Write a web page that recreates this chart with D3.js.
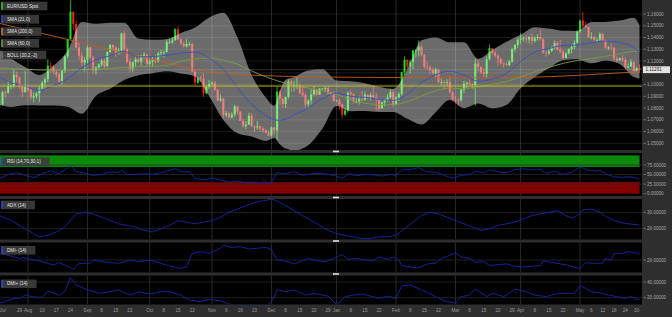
<!DOCTYPE html>
<html lang="en">
<head>
<meta charset="utf-8">
<title>EUR/USD Spot</title>
<script src="https://d3js.org/d3.v7.min.js"></script>
<style>
  body { margin: 0; background: #2e2e2e; }
  svg { display: block; font-family: "Liberation Sans", Arial, sans-serif; }
</style>
</head>
<body>
<div id="chart"></div>
<script>
// ---- data (trading days from 20 Jul 2015 to 31 May 2016, index 0..226) ----
var firstOpen = 1.0825;
var close = [
 1.0830,1.0935,1.0930,1.0985,1.0985, 1.1085,1.1060,1.0985,1.0935,1.0980,
 1.0955,1.0890,1.0900,1.0925,1.0965, 1.1015,1.1045,1.1160,1.1150,1.1105,
 1.1085,1.1025,1.1115,1.1240,1.1385, 1.1620,1.1515,1.1315,1.1245,1.1185,
 1.1210,1.1315,1.1230,1.1120,1.1145, 1.1170,1.1203,1.1155,1.1275,1.1337,
 1.1315,1.1265,1.1290,1.1435,1.1300, 1.1195,1.1135,1.1190,1.1215,1.1195,
 1.1245,1.1255,1.1175,1.1195,1.1210, 1.1195,1.1265,1.1275,1.1275,1.1360,
 1.1360,1.1375,1.1470,1.1385,1.1350, 1.1325,1.1345,1.1345,1.1110,1.1015,
 1.1055,1.1050,1.0925,1.0980,1.1005, 1.1015,1.0955,1.0865,1.0880,1.0740,
 1.0755,1.0720,1.0745,1.0815,1.0770, 1.0690,1.0645,1.0660,1.0735,1.0645,
 1.0635,1.0645,1.0625,1.0610,1.0590, 1.0565,1.0635,1.0610,1.0940,1.0880,
 1.0835,1.0895,1.1025,1.0990,1.0990, 1.0990,1.0930,1.0910,1.0830,1.0865,
 1.0915,1.0955,1.0915,1.0965,1.0965, 1.0970,1.0925,1.0930,1.0860,1.0865,
 1.0830,1.0745,1.0780,1.0930,1.0920, 1.0855,1.0855,1.0875,1.0870,1.0915,
 1.0890,1.0910,1.0890,1.0875,1.0795, 1.0850,1.0870,1.0890,1.0935,1.0830,
 1.0890,1.0920,1.1105,1.1210,1.1155, 1.1195,1.1290,1.1290,1.1320,1.1255,
 1.1150,1.1145,1.1125,1.1095,1.1130, 1.1020,1.1020,1.1015,1.1020,1.0935,
 1.0875,1.0870,1.0865,1.0955,1.1005, 1.1015,1.1005,1.0995,1.1180,1.1150,
 1.1105,1.1090,1.1215,1.1310,1.1270, 1.1245,1.1220,1.1180,1.1175,1.1165,
 1.1195,1.1300,1.1335,1.1380,1.1390, 1.1395,1.1385,1.1405,1.1370,1.1395,
 1.1405,1.1385,1.1270,1.1265,1.1285, 1.1315,1.1355,1.1295,1.1280,1.1225,
 1.1265,1.1300,1.1320,1.1355,1.1450, 1.1545,1.1500,1.1490,1.1405,1.1405,
 1.1380,1.1380,1.1430,1.1375,1.1310, 1.1315,1.1310,1.1220,1.1205,1.1225,
 1.1210,1.1145,1.1155,1.1190,1.1115, 1.1140,1.1126
];
var high = [
 1.0870,1.0945,1.0945,1.1030,1.1000, 1.1130,1.1110,1.1070,1.0995,1.1115,
 1.0990,1.0970,1.0935,1.0935,1.0990, 1.1030,1.1060,1.1215,1.1190,1.1160,
 1.1125,1.1100,1.1125,1.1250,1.1390, 1.1715,1.1610,1.1545,1.1360,1.1280,
 1.1235,1.1335,1.1320,1.1245,1.1155, 1.1180,1.1225,1.1225,1.1285,1.1345,
 1.1340,1.1330,1.1315,1.1440,1.1460, 1.1315,1.1225,1.1195,1.1240,1.1250,
 1.1255,1.1275,1.1265,1.1225,1.1240, 1.1255,1.1280,1.1295,1.1290,1.1385,
 1.1390,1.1405,1.1480,1.1495,1.1395, 1.1365,1.1385,1.1365,1.1355,1.1120,
 1.1065,1.1075,1.1095,1.0990,1.1040, 1.1025,1.1030,1.0965,1.0915,1.0890,
 1.0775,1.0770,1.0765,1.0830,1.0810, 1.0770,1.0705,1.0690,1.0760,1.0755,
 1.0650,1.0690,1.0650,1.0635,1.0625, 1.0610,1.0640,1.0640,1.0985,1.0955,
 1.0885,1.0895,1.1045,1.1040,1.1030, 1.1060,1.1010,1.0990,1.0930,1.0875,
 1.0960,1.0990,1.0960,1.0970,1.0970, 1.0985,1.0990,1.0935,1.0940,1.0870,
 1.0885,1.0835,1.0800,1.0940,1.0950, 1.0925,1.0885,1.0905,1.0945,1.0940,
 1.0910,1.0930,1.0990,1.0930,1.0880, 1.0855,1.0880,1.0920,1.0965,1.0960,
 1.0900,1.0935,1.1110,1.1240,1.1215, 1.1215,1.1295,1.1300,1.1375,1.1340,
 1.1260,1.1190,1.1165,1.1145,1.1145, 1.1130,1.1050,1.1040,1.1045,1.1070,
 1.0950,1.0900,1.0885,1.0970,1.1030, 1.1025,1.1045,1.1010,1.1220,1.1210,
 1.1155,1.1140,1.1240,1.1340,1.1310, 1.1290,1.1255,1.1230,1.1190,1.1185,
 1.1210,1.1310,1.1345,1.1395,1.1440, 1.1410,1.1420,1.1410,1.1435,1.1410,
 1.1430,1.1465,1.1395,1.1290,1.1300, 1.1325,1.1375,1.1370,1.1380,1.1295,
 1.1275,1.1310,1.1340,1.1375,1.1465, 1.1550,1.1615,1.1535,1.1490,1.1445,
 1.1415,1.1395,1.1445,1.1440,1.1385, 1.1330,1.1350,1.1325,1.1240,1.1230,
 1.1250,1.1230,1.1180,1.1215,1.1195, 1.1150,1.1175
];
var low = [
 1.0808,1.0820,1.0890,1.0920,1.0960, 1.0975,1.1020,1.0965,1.0890,1.0930,
 1.0940,1.0870,1.0850,1.0880,1.0850, 1.0960,1.0960,1.1020,1.1100,1.1090,
 1.1060,1.1015,1.1000,1.1100,1.1220, 1.1385,1.1460,1.1310,1.1210,1.1155,
 1.1110,1.1180,1.1220,1.1085,1.1085, 1.1125,1.1150,1.1140,1.1150,1.1270,
 1.1290,1.1235,1.1255,1.1265,1.1280, 1.1180,1.1105,1.1105,1.1150,1.1180,
 1.1160,1.1215,1.1160,1.1155,1.1150, 1.1180,1.1185,1.1235,1.1230,1.1275,
 1.1345,1.1345,1.1375,1.1380,1.1335, 1.1315,1.1315,1.1325,1.1105,1.0995,
 1.1005,1.1025,1.0895,1.0915,1.0965, 1.0990,1.0945,1.0855,1.0850,1.0710,
 1.0720,1.0705,1.0710,1.0725,1.0745, 1.0690,1.0635,1.0620,1.0655,1.0640,
 1.0595,1.0615,1.0595,1.0590,1.0585, 1.0560,1.0555,1.0575,1.0525,1.0825,
 1.0800,1.0800,1.0880,1.0935,1.0940, 1.0960,1.0920,1.0895,1.0805,1.0805,
 1.0830,1.0905,1.0905,1.0910,1.0960, 1.0940,1.0915,1.0910,1.0855,1.0855,
 1.0785,1.0710,1.0735,1.0760,1.0865, 1.0840,1.0840,1.0830,1.0860,1.0860,
 1.0875,1.0865,1.0880,1.0780,1.0780, 1.0800,1.0815,1.0855,1.0880,1.0810,
 1.0825,1.0860,1.0905,1.1080,1.1130, 1.1095,1.1130,1.1230,1.1240,1.1240,
 1.1135,1.1125,1.1090,1.1085,1.1060, 1.1015,1.0990,1.0955,1.0985,1.0920,
 1.0860,1.0835,1.0820,1.0855,1.0925, 1.0970,1.0990,1.0965,1.0820,1.1110,
 1.1090,1.1060,1.1055,1.1205,1.1255, 1.1230,1.1160,1.1170,1.1145,1.1160,
 1.1155,1.1185,1.1280,1.1310,1.1350, 1.1365,1.1355,1.1350,1.1340,1.1355,
 1.1375,1.1375,1.1265,1.1235,1.1250, 1.1275,1.1300,1.1290,1.1265,1.1215,
 1.1225,1.1255,1.1265,1.1300,1.1350, 1.1440,1.1480,1.1480,1.1395,1.1385,
 1.1365,1.1365,1.1370,1.1370,1.1305, 1.1295,1.1290,1.1210,1.1190,1.1205,
 1.1195,1.1130,1.1135,1.1145,1.1100, 1.1110,1.1105
];

// overlays at these trading days
var ovDay = [0,4,9,14,19,24,29,34,39,44,49,54,59,64,69,74,79,84,89,94,97,99,101,104,109,114,119,
  124,129,134,139,144,149,154,159,164,169,174,179,184,189,194,199,204,209,214,219,224,226];
var bollUp = [1.1292,1.1221,1.1149,1.1080,1.1161,1.1288,1.1532,1.1517,1.1525,1.1526,1.1391,1.1380,
  1.1386,1.1439,1.1485,1.1570,1.1610,1.1400,1.1080,1.0890,1.0820,1.0950,1.1040,1.1065,1.1120,1.1130,
  1.1034,1.1027,1.1010,1.0982,1.0963,1.1130,1.1376,1.1401,1.1359,1.1359,1.1220,1.1294,1.1364,1.1423,
  1.1488,1.1476,1.1457,1.1456,1.1531,1.1533,1.1544,1.1569,1.1505];
var bollLo = [1.0828,1.0809,1.0823,1.0822,1.0821,1.0812,1.0752,1.0905,1.0965,1.1038,1.1079,1.1096,
  1.1112,1.1093,1.1069,1.0900,1.0698,1.0585,1.0557,1.0520,1.0545,1.0490,1.0455,1.0440,1.0484,1.0625,
  1.0818,1.0773,1.0774,1.0766,1.0767,1.0708,1.0660,1.0765,1.0869,1.0799,1.0838,1.0798,1.0826,1.0969,
  1.1064,1.1138,1.1207,1.1216,1.1181,1.1205,1.1174,1.1063,1.1049];
var sma21 = [1.1060,1.1015,1.0986,1.0951,1.0991,1.1050,1.1142,1.1211,1.1245,1.1282,1.1235,1.1238,
  1.1249,1.1266,1.1277,1.1223,1.1128,1.0971,1.0832,1.0737,1.0700,1.0696,1.0705,1.0742,1.0800,1.0880,
  1.0926,1.0900,1.0892,1.0874,1.0865,1.0919,1.1018,1.1083,1.1114,1.1079,1.1029,1.1046,1.1095,1.1196,
  1.1276,1.1307,1.1332,1.1336,1.1356,1.1369,1.1359,1.1316,1.1277];
var sma60 = [1.1140,1.1135,1.1130,1.1125,1.1122,1.1122,1.1126,1.1132,1.1138,1.1145,1.1150,1.1156,
  1.1162,1.1200,1.1218,1.1224,1.1207,1.1173,1.1115,1.1066,1.1040,1.1024,1.1012,1.0993,1.0970,1.0947,
  1.0917,1.0871,1.0841,1.0830,1.0829,1.0854,1.0903,1.0946,1.0969,1.0966,1.0980,1.1001,1.1025,1.1065,
  1.1108,1.1145,1.1180,1.1204,1.1220,1.1241,1.1262,1.1283,1.1285];
var sma200 = [1.1520,1.1497,1.1469,1.1440,1.1412,1.1383,1.1355,1.1326,1.1298,1.1269,1.1241,1.1212,
  1.1184,1.1156,1.1128,1.1108,1.1095,1.1087,1.1080,1.1075,1.1073,1.1071,1.1070,1.1068,1.1066,1.1064,
  1.1063,1.1062,1.1061,1.1060,1.1060,1.1059,1.1059,1.1058,1.1058,1.1057,1.1057,1.1057,1.1058,1.1060,
  1.1063,1.1067,1.1072,1.1078,1.1085,1.1092,1.1099,1.1105,1.1107];
var lastPrice = 1.11261;
var levelLine = 1.0987;

// oscillators: [trading day, value]
var rsi = [[0,40],[3,50],[6,55],[9,48],[12,42],[15,52],[18,60],[21,52],[24,68],[25,74],[27,58],
  [30,54],[33,48],[36,50],[39,57],[42,55],[43,62],[45,50],[48,50],[51,52],[54,50],[57,55],[60,61],
  [62,65],[64,58],[67,57],[69,40],[72,36],[75,40],[78,36],[81,30],[84,33],[87,28],[90,30],[93,27],
  [96,30],[98,55],[101,52],[104,58],[107,48],[110,52],[113,53],[116,51],[119,46],[121,40],[123,52],
  [126,47],[129,50],[132,49],[135,46],[138,50],[140,48],[142,62],[145,63],[148,68],[151,57],[154,56],
  [157,48],[160,40],[163,48],[166,50],[168,58],[171,55],[173,62],[176,57],[179,55],[182,63],[185,65],
  [188,62],[191,63],[193,53],[196,58],[199,50],[202,56],[205,70],[208,61],[211,59],[212,61],[214,52],
  [217,44],[220,43],[223,44],[226,38]];
var adx = [[0,28],[4,25],[8,21],[12,17],[14,15],[17,16],[20,18],[23,21],[25,25],[27,29],[30,30],
  [33,29],[36,27],[39,25],[42,23],[45,22],[48,21],[51,19],[54,18],[57,20],[60,22],[63,25],[66,24],
  [69,23],[72,24],[75,25],[78,27],[81,30],[84,32],[87,34],[90,36],[93,37],[96,38],[98,37],[101,34],
  [104,31],[107,28],[110,25],[113,22],[116,19],[119,17],[122,16],[125,15],[128,14],[131,14],[134,15],
  [137,15],[140,16],[143,20],[146,24],[149,28],[152,30],[155,29],[158,27],[161,25],[164,23],[167,21],
  [170,19],[173,20],[176,22],[179,23],[182,24],[185,26],[188,28],[191,29],[194,30],[197,31],[200,28],
  [202,26.5],[204,28],[206,31.5],[209,32],[212,30],[214,27.5],[217,25],[220,23.5],[223,22.8],[226,22.3]];
var dmiMinus = [[0,28.5],[4,25],[7,22],[8,23.4],[12,20],[15,17.8],[19,13.6],[21,16.6],[24,12],[26,8.2],
  [28,15.8],[32,15.8],[33,20],[36,18],[39,16.6],[42,15.8],[46,20],[49,17.8],[53,20],[57,15.8],[60,12.4],
  [64,9.4],[66,11.5],[68,28.5],[71,30.6],[74,28.5],[78,35],[79,39],[82,36],[85,37],[88,34],[91,35],
  [94,36],[96,33],[98,20],[101,19],[104,15],[107,19],[109,22],[112,19],[115,18],[118,22],[121,27],
  [123,21],[126,22],[129,20],[132,19],[134,24],[137,21],[139,24],[141,20],[142,13],[145,11],[148,10],
  [151,15],[154,16],[156,22],[159,26],[161,29],[163,24],[166,22],[168,17],[171,18],[173,13],[176,14],
  [179,15],[182,12],[185,11],[188,12],[191,13],[192,19],[195,17],[198,15],[200,14],[204,10],[205,9.4],
  [207,16.6],[210,15.8],[213,16],[214,22],[216,20],[217,28.5],[220,28.5],[222,30.6],[224,29.3],[226,28.5]];
var dmiPlus = [[0,13],[5,19],[7,19],[9,23.4],[12,21],[15,20.5],[17,28.5],[21,23.4],[23,27.6],[25,46],
  [27,36],[31,30],[35,25.6],[39,27.6],[42,30],[46,23.4],[49,27.6],[53,24.7],[57,27.6],[60,27.6],
  [64,23.4],[67,17],[71,15],[74,18],[78,16],[82,10.7],[88,10.7],[95,10.7],[97,21],[98,30],[101,27.6],
  [104,30],[108,23.4],[111,25.6],[116,22],[118,15],[119,10.7],[122,21.3],[125,23.4],[128,24.7],
  [132,21.3],[134,19.2],[137,22],[140,19.2],[142,35],[145,36],[149,30],[154,21.3],[158,15],[161,13],
  [163,21.3],[166,23.4],[168,31],[172,21.3],[174,25.6],[178,21.3],[180,25.6],[182,31],[186,27.6],
  [189,23.4],[193,21.3],[196,24.7],[200,25.6],[203,25.6],[205,35],[207,32],[209,27.6],[213,25.6],
  [215,23.4],[218,21.3],[221,19.2],[223,21.3],[225,18],[226,17.7]];

// x axis
var monthLabels = ["Jul","Aug","Sep","Oct","Nov","Dec","Jan","Feb","Mar","Apr","May"];
var monthDays = [1,10,31,53,75,96,119,140,161,184,205];
var dayLabels = ["29","10","17","24","8","15","22","8","15","22","9","16","23","8","15","22","29",
  "8","15","22","8","15","22","8","15","22","29","8","15","22","6","12","18","24","30"];
var dayDays = [7,15,20,25,36,41,46,58,63,68,80,85,90,101,106,111,116,124,129,134,145,150,155,
  166,171,176,181,189,194,199,209,213,217,221,225];

var priceTicks = [1.05,1.06,1.07,1.08,1.09,1.10,1.11,1.12,1.13,1.14,1.15,1.16];

var legendNames = ["EUR/USD Spot","SMA (21,0)","SMA (200,0)","SMA (60,0)","BOLL (20,2,-2)"];
var legendColors = ["#22e022","#2a44e0","#e0701e","#6aa02a","#777777"];

// ---- layout ----
var width = 672, height = 317, plotR = 642;
var FS = 4.6;
var fmt = d3.format(".5f");

var svg = d3.select("#chart").append("svg")
  .attr("width", width).attr("height", height);
svg.append("rect").attr("width", width).attr("height", height).attr("fill", "#2e2e2e");

var x = d3.scaleLinear().domain([0, 226]).range([-0.3, 639.5]);

var panels = {
  main: { top: 0, bottom: 150 },
  rsi:  { top: 153, bottom: 196 },
  adx:  { top: 199, bottom: 239.5 },
  dmim: { top: 242.5, bottom: 272.5 },
  dmip: { top: 275.5, bottom: 304.5 }
};

var yMain = d3.scaleLinear().domain([1.05, 1.16]).range([143.3, 14]);
var yRsi  = d3.scaleLinear().domain([0, 100]).range([193.7, 155.4]);
var yAdx  = d3.scaleLinear().domain([20, 30]).range([228.7, 212.3]);
var yDmiM = d3.scaleLinear().domain([20, 40]).range([260, 244.3]);
var yDmiP = d3.scaleLinear().domain([20, 40]).range([297.7, 282]);

var defs = svg.append("defs");

function makePanel(key) {
  var p = panels[key];
  defs.append("clipPath").attr("id", "clip-" + key)
    .append("rect").attr("x", 0).attr("y", p.top)
    .attr("width", plotR).attr("height", p.bottom - p.top);
  svg.append("rect").attr("x", 0).attr("y", p.top)
    .attr("width", plotR).attr("height", p.bottom - p.top).attr("fill", "#000");
  var g = svg.append("g").attr("clip-path", "url(#clip-" + key + ")");
  // month grid
  g.selectAll("line.vg").data(monthDays.slice(1)).enter().append("line")
    .attr("x1", function(d) { return x(d); }).attr("x2", function(d) { return x(d); })
    .attr("y1", p.top).attr("y2", p.bottom)
    .attr("stroke", "#333").attr("stroke-width", 0.8);
  return g;
}

function hGrid(g, y, ticks, color) {
  g.selectAll(null).data(ticks).enter().append("line")
    .attr("x1", 0).attr("x2", plotR)
    .attr("y1", function(d) { return y(d); }).attr("y2", function(d) { return y(d); })
    .attr("stroke", color).attr("stroke-width", 0.7);
}

function rightAxis(y, ticks) {
  var g = svg.append("g");
  g.selectAll("line").data(ticks).enter().append("line")
    .attr("x1", plotR + 1.5).attr("x2", plotR + 4)
    .attr("y1", function(d) { return y(d); }).attr("y2", function(d) { return y(d); })
    .attr("stroke", "#9a9a9a").attr("stroke-width", 0.6);
  g.selectAll("text").data(ticks).enter().append("text")
    .attr("x", plotR + 5).attr("y", function(d) { return y(d); })
    .attr("dy", "0.35em").attr("font-size", FS).attr("fill", "#a8a8a8")
    .text(function(d) { return fmt(d); });
}

function labelBox(label, color, yTop) {
  var g = svg.append("g");
  var bg = g.append("rect").attr("x", 1).attr("y", yTop).attr("height", 8.6)
    .attr("fill", "#3d3d3d").attr("fill-opacity", 0.92);
  g.append("rect").attr("x", 1.4).attr("y", yTop + 0.6).attr("width", 1.4).attr("height", 7.4)
    .attr("fill", color);
  var t = g.append("text").attr("x", 7).attr("y", yTop + 5.9)
    .attr("font-size", FS).attr("fill", "#e6e6e6").text(label);
  bg.attr("width", t.node().getComputedTextLength() + 15);
}

// ---- main price panel ----
var gm = makePanel("main");
var open = close.map(function(c, i) { return i === 0 ? firstOpen : close[i - 1]; });
var idx = d3.range(close.length);
var upC = "#16e016", dnC = "#f01e1e";

gm.selectAll("line.wick").data(idx).enter().append("line")
  .attr("x1", function(i) { return x(i); }).attr("x2", function(i) { return x(i); })
  .attr("y1", function(i) { return yMain(Math.max(high[i], open[i], close[i])); })
  .attr("y2", function(i) { return yMain(Math.min(low[i], open[i], close[i])); })
  .attr("stroke", function(i) { return close[i] >= open[i] ? upC : dnC; })
  .attr("stroke-width", 0.8);

gm.selectAll("rect.body").data(idx).enter().append("rect")
  .attr("x", function(i) { return x(i) - 1; })
  .attr("width", 2)
  .attr("y", function(i) { return yMain(Math.max(open[i], close[i])); })
  .attr("height", function(i) {
    return Math.max(0.8, Math.abs(yMain(open[i]) - yMain(close[i])));
  })
  .attr("fill", function(i) { return close[i] >= open[i] ? upC : dnC; });

var ov = d3.range(ovDay.length);
gm.append("path").datum(ov)
  .attr("d", d3.area()
    .x(function(k) { return x(ovDay[k]); })
    .y0(function(k) { return yMain(bollLo[k]); })
    .y1(function(k) { return yMain(bollUp[k]); })
    .curve(d3.curveMonotoneX))
  .attr("fill", "#ffffff").attr("fill-opacity", 0.42);

hGrid(gm, yMain, priceTicks, "rgba(255,255,255,0.14)");

function ovLine(vals, color) {
  gm.append("path").datum(ov)
    .attr("d", d3.line()
      .x(function(k) { return x(ovDay[k]); })
      .y(function(k) { return yMain(vals[k]); })
      .curve(d3.curveMonotoneX))
    .attr("fill", "none").attr("stroke", color).attr("stroke-width", 0.9);
}
ovLine(sma200, "#c2601c");
ovLine(sma60, "#7a9e3a");
ovLine(sma21, "#3a4ec4");

gm.append("line").attr("x1", 0).attr("x2", plotR)
  .attr("y1", yMain(levelLine)).attr("y2", yMain(levelLine))
  .attr("stroke", "#cccc1a").attr("stroke-width", 0.9);
gm.append("line").attr("x1", 0).attr("x2", plotR)
  .attr("y1", yMain(lastPrice)).attr("y2", yMain(lastPrice))
  .attr("stroke", "#bbbbbb").attr("stroke-opacity", 0.5).attr("stroke-width", 0.5);

// the last-price tag hides the 1.11 label, as in the source chart
rightAxis(yMain, priceTicks.filter(function(v) { return Math.abs(yMain(v) - yMain(lastPrice)) > 5; }));
svg.append("rect").attr("x", plotR + 1).attr("y", yMain(lastPrice) - 3.4)
  .attr("width", 27).attr("height", 6.8).attr("fill", "#e2e2e2");
svg.append("text").attr("x", plotR + 3.5).attr("y", yMain(lastPrice))
  .attr("dy", "0.35em").attr("font-size", FS).attr("fill", "#222")
  .text(fmt(lastPrice));

var legendTops = [1.7, 15, 27.3, 39, 50.7];
legendNames.forEach(function(n, k) { labelBox(n, legendColors[k], legendTops[k]); });

// ---- oscillator panels ----
function oscLine(g, data, y) {
  g.append("path").datum(data)
    .attr("d", d3.line().x(function(d) { return x(d[0]); }).y(function(d) { return y(d[1]); }))
    .attr("fill", "none").attr("stroke", "#1428a8").attr("stroke-width", 0.9);
}

var gr = makePanel("rsi");
gr.append("rect").attr("x", 0).attr("width", 639.5)
  .attr("y", yRsi(100)).attr("height", yRsi(70) - yRsi(100)).attr("fill", "#0b8a0b");
gr.append("rect").attr("x", 0).attr("width", 639.5)
  .attr("y", yRsi(30)).attr("height", yRsi(0) - yRsi(30)).attr("fill", "#830000");
hGrid(gr, yRsi, [25, 50, 75], "#2c2c2c");
oscLine(gr, rsi, yRsi);
rightAxis(yRsi, [0, 25, 50, 75]);
labelBox("RSI (14,70,30,1)", "#2a44e0", 157.3);

var ga = makePanel("adx");
hGrid(ga, yAdx, [20, 30], "#2c2c2c");
oscLine(ga, adx, yAdx);
rightAxis(yAdx, [20, 30]);
labelBox("ADX (14)", "#2a44e0", 200.7);

var gdm = makePanel("dmim");
hGrid(gdm, yDmiM, [20], "#2c2c2c");
oscLine(gdm, dmiMinus, yDmiM);
rightAxis(yDmiM, [20]);
labelBox("DMI- (14)", "#2a44e0", 246);

var gdp = makePanel("dmip");
hGrid(gdp, yDmiP, [20, 40], "#2c2c2c");
oscLine(gdp, dmiPlus, yDmiP);
rightAxis(yDmiP, [20, 40]);
labelBox("DMI+ (14)", "#2a44e0", 279.5);

// splitter handles
[151.5, 197.5, 241, 274].forEach(function(yy) {
  svg.append("rect").attr("x", 333).attr("y", yy - 0.8).attr("width", 6).attr("height", 1.6)
    .attr("fill", "#dddddd");
});

// ---- bottom axis ----
var xa = svg.append("g").attr("font-size", FS).attr("fill", "#9a9a9a").attr("text-anchor", "middle");
xa.selectAll("text.m").data(monthDays).enter().append("text")
  .attr("x", function(d) { return x(d); }).attr("y", 312.3)
  .text(function(d, k) { return monthLabels[k]; });
xa.selectAll("text.d").data(dayDays).enter().append("text")
  .attr("x", function(d) { return x(d); }).attr("y", 312.3)
  .text(function(d, k) { return dayLabels[k]; });
</script>
</body>
</html>
